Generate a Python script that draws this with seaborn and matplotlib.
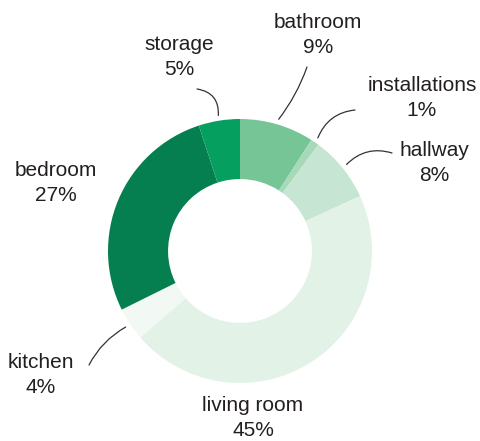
import numpy as np
import matplotlib
matplotlib.use("Agg")
import matplotlib.pyplot as plt
import seaborn as sns

# donnees
rooms = ["bathroom", "installations", "hallway", "living room", "kitchen", "bedroom", "storage"]
shares = [9, 1, 8, 45, 4, 27, 5]
colors = ["#76c597", "#a5d9b7", "#c6e5d2", "#e2f2e7", "#f2f9f4", "#057f4f", "#05a060"]

# mise en page (pixels de l'image, origine en haut a gauche)
W, H = 481, 441
CX, CY, R = 240, 251, 132
label_px = [(318, 35), (422, 98), (434, 163), (253, 418), (41, 375), (56, 183), (179, 57)]
leader_px = [(307, 67), (355, 110), (392, 153), None, (89, 365), None, (197, 89)]
leader_rad = [-0.08, 0.3, 0.3, 0, -0.15, 0, -0.45]


def to_data(p):
    return ((p[0] - CX) / R, (CY - p[1]) / R)


sns.set_theme(style="white")
plt.rcParams["font.family"] = ["Liberation Sans", "DejaVu Sans"]

fig = plt.figure(figsize=(W / 100, H / 100), dpi=100)
ax = fig.add_axes([0, 0, 1, 1])

wedges, _ = ax.pie(shares, colors=colors, startangle=90, counterclock=False,
                   radius=1, wedgeprops=dict(width=0.455, linewidth=0))
# pie() impose ses propres limites, on les remet apres
ax.set_xlim(-CX / R, (W - CX) / R)
ax.set_ylim(-(H - CY) / R, CY / R)
ax.axis("off")

for w, room, share, lp, ld, rad in zip(wedges, rooms, shares, label_px, leader_px, leader_rad):
    tx, ty = to_data(lp)
    ax.text(tx, ty, f"{room}\n{share}%", ha="center", va="center",
            fontsize=15, color="#231f20", linespacing=1.38)
    if ld is not None:
        mid = np.deg2rad((w.theta1 + w.theta2) / 2)
        ex, ey = 1.04 * np.cos(mid), 1.04 * np.sin(mid)
        ax.annotate("", xy=(ex, ey), xytext=to_data(ld),
                    arrowprops=dict(arrowstyle="-", color="#333333", lw=0.9,
                                    shrinkA=0, shrinkB=0,
                                    connectionstyle=f"arc3,rad={rad}"))

fig.savefig("out.png", dpi=100)
